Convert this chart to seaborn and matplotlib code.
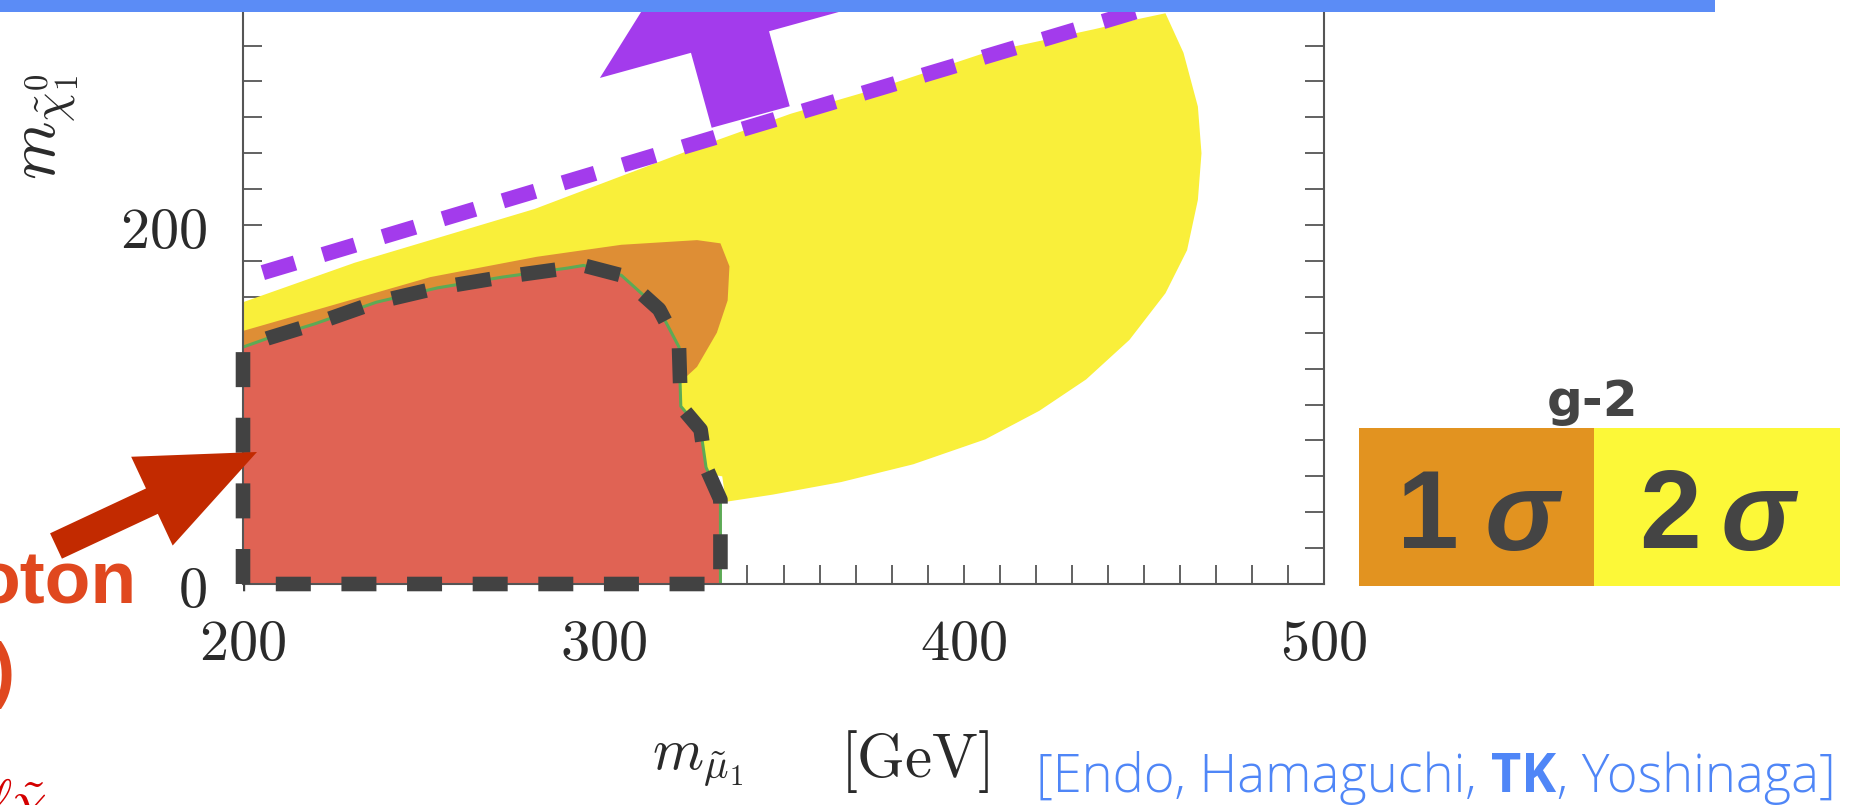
import numpy as np
import pandas as pd
import matplotlib
matplotlib.use("Agg")
import matplotlib.pyplot as plt
import seaborn as sns
from matplotlib.patches import Rectangle, FancyArrow
from matplotlib.transforms import IdentityTransform
from matplotlib.ticker import MultipleLocator, FixedLocator, FuncFormatter

# ---------------- data ----------------
x_ticks = [200, 300, 400, 500]
y_ticks = [0, 200]

# g-2 2 sigma region (yellow)
yellow_x = [200, 200, 231, 281, 327, 352, 376, 406, 436, 449, 456, 461, 465,
            466, 465, 462, 456, 446, 434, 421, 406, 386, 366, 347, 334, 333, 200]
yellow_y = [100, 157, 179, 209, 244, 262, 276, 296, 309, 315, 318, 296, 266,
            240, 214, 186, 162, 136, 114, 96.5, 80.6, 66.7, 56.8, 49.8, 45.8, 60, 100]

# g-2 1 sigma region (orange)
orange_x = [200, 252, 281.5, 305, 326, 332.5, 335, 334.5, 331.5, 326, 322, 300, 200]
orange_y = [141, 171, 182.3, 189, 191.6, 189.8, 177, 158, 140, 121, 113.6, 100, 100]

# excluded region (red) and its boundary
red_x = [200, 200, 207, 220, 237, 254, 272, 290, 294.5, 305, 315.5, 321, 321.5,
         327, 328.5, 332.5, 332.5]
red_y = [0, 132, 137, 145, 157, 165, 171, 176, 177.5, 172, 153, 132, 99,
         86, 65, 47, 0]

# purple dashed line
purple_x = [205.5, 454]
purple_y = [173.5, 322.6]

legend_labels = ["1", "2"]
legend_colors = ["#E29320", "#FCF838"]

# ---------------- figure ----------------
sns.set_theme(style="white")
plt.rcParams["mathtext.fontset"] = "cm"
plt.rcParams["font.family"] = ["DejaVu Sans"]

W, H = 1859, 805
fig = plt.figure(figsize=(W / 100, H / 100), dpi=100)
fig.patch.set_facecolor("white")

ax_left, ax_right, ax_top, ax_bottom = 243, 1324, 12, 584
ax = fig.add_axes([ax_left / W, 1 - ax_bottom / H,
                   (ax_right - ax_left) / W, (ax_bottom - ax_top) / H])
ax.set_xlim(200, 500)
ax.set_ylim(0, 318.7)
ax.set_facecolor("white")

ax.fill(yellow_x, yellow_y, color="#F9EF3A", lw=0, zorder=1)
ax.fill(orange_x, orange_y, color="#DE8E35", lw=0, zorder=1.1)
ax.fill(red_x, red_y, color="#E06354", lw=0, zorder=1.2)

sns.lineplot(x=red_x[1:], y=red_y[1:], sort=False, estimator=None,
             color="#5DAA55", lw=2.2, ax=ax, zorder=1.3)

outline_x = red_x + [red_x[0]]
outline_y = red_y + [red_y[0]]
sns.lineplot(x=outline_x, y=outline_y, sort=False, estimator=None,
             color="#424242", lw=10.5, linestyle=(0, (2.4, 2.1)),
             dash_capstyle="butt", solid_joinstyle="miter",
             ax=ax, zorder=3, clip_on=False)

sns.lineplot(x=purple_x, y=purple_y, sort=False, estimator=None,
             color="#A33BEC", lw=11, linestyle=(0, (2.2, 1.9)),
             dash_capstyle="butt", ax=ax, zorder=3)

ax.set_axisbelow(True)
ax.xaxis.set_major_locator(FixedLocator(x_ticks))
ax.xaxis.set_minor_locator(MultipleLocator(10))
ax.yaxis.set_major_locator(FixedLocator(y_ticks))
ax.yaxis.set_minor_locator(MultipleLocator(20))
fmt = FuncFormatter(lambda v, p: f"${v:.0f}$")
ax.xaxis.set_major_formatter(fmt)
ax.yaxis.set_major_formatter(fmt)
ax.tick_params(which="both", direction="in", length=14, width=1.3,
               color="#555555", labelcolor="#2a2a2a", labelsize=42,
               bottom=True, left=True, right=True, top=False,
               labelright=False, labeltop=False)
ax.tick_params(axis="x", which="both", pad=22)
ax.tick_params(axis="y", which="both", pad=26)
ax.grid(False)
ax.spines["top"].set_visible(False)
for s in ["left", "right", "bottom"]:
    ax.spines[s].set_color("#555555")
    ax.spines[s].set_linewidth(1.5)

# axis labels
fig.text(48 / W, 1 - 127 / H, r"$m_{\tilde{\chi}_1^0}$", rotation=90,
         ha="center", va="center", fontsize=48, color="#2a2a2a")
fig.text(652 / W, 1 - 768 / H, r"$m_{\tilde{\mu}_1}$",
         ha="left", va="baseline", fontsize=42, color="#2a2a2a")
fig.text(840 / W, 1 - 777 / H, r"$\mathrm{[GeV]}$",
         ha="left", va="baseline", fontsize=44, color="#2a2a2a")

I = IdentityTransform()

# purple arrow
fig.add_artist(FancyArrow(750.7, H - 117, -53.7, 194.5, width=81,
                          head_width=270, head_length=124,
                          length_includes_head=True, color="#A33BEC",
                          lw=0, transform=I, zorder=5))
# blue bar at top
fig.add_artist(Rectangle((0, H - 12), 1715, 12, color="#5B8CF6", lw=0,
                         transform=I, zorder=10))
# red arrow
fig.add_artist(FancyArrow(56, H - 546, 201, 94, width=28, head_width=98,
                          head_length=116, length_includes_head=True,
                          color="#C22A00", lw=0, transform=I, zorder=6))

# left slide text fragments (cut by the slide edge, as in the reference)
fig.text(-26 / W, 1 - 603 / H, "oton", fontsize=54, weight="bold",
         color="#E0481F", family=["Liberation Sans", "DejaVu Sans"],
         va="baseline", ha="left")
fig.text(15 / W, 1 - 694 / H, ")", fontsize=52, weight="bold",
         color="#E0481F", family=["Liberation Sans", "DejaVu Sans"],
         va="baseline", ha="right")
fig.text(-12 / W, 1 - 818 / H, r"$\ell\tilde{\chi}$", fontsize=40,
         color="#D40000", va="baseline", ha="left")

# legend
box_top, box_bot = 428, 586
edges = [1359, 1594, 1840]
for i, (lab, col) in enumerate(zip(legend_labels, legend_colors)):
    fig.add_artist(Rectangle((edges[i], H - box_bot), edges[i + 1] - edges[i],
                             box_bot - box_top, color=col, lw=0,
                             transform=I, zorder=4))
digit_cx = [1428, 1670]
sigma_cx = [1521, 1757]
for i, lab in enumerate(legend_labels):
    fig.text(digit_cx[i] / W, 1 - 548 / H, lab, fontsize=80, weight="bold",
             color="#444444", family=["Liberation Sans", "DejaVu Sans"],
             ha="center", va="baseline", zorder=7)
    fig.text(sigma_cx[i] / W, 1 - 550 / H, "σ", fontsize=80, weight="bold",
             style="italic", color="#444444",
             family=["Liberation Sans", "DejaVu Sans"],
             ha="center", va="baseline", zorder=7)
fig.text(1593 / W, 1 - 416 / H, "g-2", fontsize=36, weight="bold",
         color="#444444", family=["DejaVu Sans"],
         ha="center", va="baseline", zorder=7)

# citation
blue = "#4F86F7"
cfam = ["Open Sans", "DejaVu Sans"]
cs = 37.8
t1 = fig.text(1036 / W, 1 - 792 / H, "[Endo, Hamaguchi,", fontsize=cs,
              color=blue, family=cfam, weight="light",
              ha="left", va="baseline")
t2 = ax.annotate("TK", xy=(1, 0), xycoords=t1, xytext=(10.5, 0),
                 textcoords="offset points", fontsize=cs, color=blue,
                 family=cfam, weight="bold",
                 ha="left", va="bottom", annotation_clip=False)
ax.annotate(", Yoshinaga]", xy=(1, 0), xycoords=t2, xytext=(0.5, 0),
            textcoords="offset points", fontsize=cs, color=blue,
            family=cfam, weight="light",
            ha="left", va="bottom", annotation_clip=False)

fig.savefig("out.png", dpi=100)
